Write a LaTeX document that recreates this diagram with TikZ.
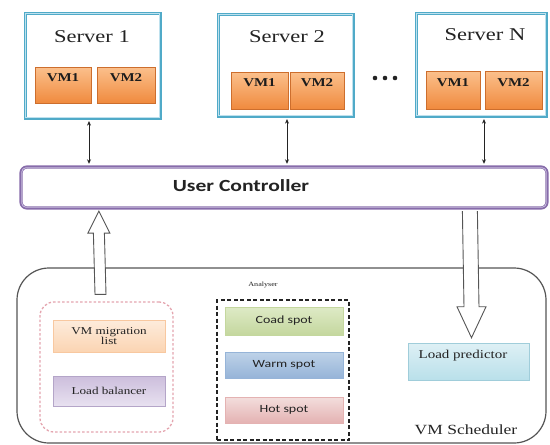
\documentclass[tikz,border=0pt]{standalone}
\usepackage{fontspec}
\setmainfont[FakeStretch=1.25]{Liberation Serif}
\newfontfamily\uisans[FakeStretch=1.27]{Carlito}
\usetikzlibrary{arrows.meta,calc,shadows}

\definecolor{servline}{RGB}{80,170,200}
\definecolor{servinner}{RGB}{190,225,238}
\definecolor{vmtop}{RGB}{251,192,140}
\definecolor{vmbot}{RGB}{240,138,62}
\definecolor{vmedge}{RGB}{205,110,45}
\definecolor{ctrlline}{RGB}{135,108,170}
\definecolor{ctrlinner}{RGB}{200,188,222}
\definecolor{schedline}{RGB}{85,85,85}
\definecolor{pinkdash}{RGB}{228,165,175}
\definecolor{migtop}{RGB}{253,236,220}
\definecolor{migbot}{RGB}{251,212,178}
\definecolor{migedge}{RGB}{248,200,160}
\definecolor{lbtop}{RGB}{204,190,220}
\definecolor{lbbot}{RGB}{232,225,240}
\definecolor{lbedge}{RGB}{180,165,200}
\definecolor{coldtop}{RGB}{222,234,198}
\definecolor{coldbot}{RGB}{196,215,158}
\definecolor{warmtop}{RGB}{190,210,232}
\definecolor{warmbot}{RGB}{150,180,216}
\definecolor{hottop}{RGB}{243,222,221}
\definecolor{hotbot}{RGB}{228,178,178}
\definecolor{predtop}{RGB}{222,240,245}
\definecolor{predbot}{RGB}{185,224,234}
\definecolor{prededge}{RGB}{160,205,218}
\definecolor{inkgray}{RGB}{35,35,35}

\tikzset{
  server/.style={draw=servline, line width=3pt, fill=white, inner sep=0pt},
  srvtitle/.style={font=\fontsize{18}{20}\selectfont, text=inkgray, inner sep=0pt},
  vmbox/.style={top color=vmtop, bottom color=vmbot, draw=vmedge, line width=0.5pt,
    inner sep=0pt, text height=8.5pt, text depth=16.5pt,
    font=\fontsize{12}{13}\selectfont\bfseries, text=inkgray!80!black,
    drop shadow={shadow xshift=1pt, shadow yshift=-1pt, opacity=0.35}},
  ctrlbox/.style={draw=ctrlline, line width=3.2pt, rounded corners=6pt, fill=white, inner sep=0pt},
  dblarrow/.style={{Stealth[length=4.5pt,width=4pt]}-{Stealth[length=4.5pt,width=4pt]},
    line width=0.7pt, draw=inkgray},
  schedbox/.style={draw=schedline, line width=1.2pt, rounded corners=32pt, inner sep=0pt},
  hollow/.style={draw=schedline, line width=0.9pt, fill=white, line join=miter},
  pinkbox/.style={draw=pinkdash, line width=1.3pt, dash pattern=on 2.5pt off 2pt,
    rounded corners=14pt, inner sep=0pt},
  blackdash/.style={draw=inkgray, line width=1.1pt, dash pattern=on 4pt off 2.5pt, inner sep=0pt},
  panel/.style={line width=0.5pt, inner sep=0pt, text=inkgray,
    drop shadow={shadow xshift=0.8pt, shadow yshift=-0.8pt, opacity=0.25}},
  serifsmall/.style={font=\fontsize{10.5}{11.5}\selectfont},
  spotfont/.style={font=\uisans\fontsize{11}{12}\selectfont},
  plain/.style={inner sep=0pt, text=inkgray}
}

\begin{document}
\begin{tikzpicture}[x=1pt,y=-1pt]
\useasboundingbox (0,0) rectangle (550,445);

% ---- servers ----
\node[server, minimum width=135pt, minimum height=105pt] (s1) at (92.5,65.5) {};
\node[server, minimum width=135pt, minimum height=102pt] (s2) at (285.5,65) {};
\node[server, minimum width=130pt, minimum height=103pt] (sN) at (481,64.5) {};
\foreach \s in {s1,s2,sN}
  \draw[servinner, line width=0.8pt]
    ($(\s.north west)+(2.2,2.2)$) rectangle ($(\s.south east)+(-2.2,-2.2)$);

\node[srvtitle] (s1t) at (92,37) {Server 1};
\node[srvtitle] (s2t) at (287,37) {Server 2};
\node[srvtitle] (sNt) at (485,35) {Server N};

\node[vmbox, minimum width=56pt, minimum height=36pt] (s1v1) at (63,85) {VM1};
\node[vmbox, minimum width=58pt, minimum height=36pt] (s1v2) at (126,85) {VM2};
\node[vmbox, minimum width=57pt, minimum height=37pt] (s2v1) at (259.5,90.5) {VM1};
\node[vmbox, minimum width=54pt, minimum height=37pt] (s2v2) at (317,90.5) {VM2};
\node[vmbox, minimum width=54pt, minimum height=38pt] (sNv1) at (453,90) {VM1};
\node[vmbox, minimum width=57pt, minimum height=38pt] (sNv2) at (513.5,90) {VM2};

% ellipsis between the servers
\foreach \dx/\nm in {375/d1,385/d2,395/d3}
  \fill[inkgray] (\dx,78) circle (2.3pt) coordinate (\nm);

% ---- user controller ----
\node[ctrlbox, minimum width=526pt, minimum height=41pt] (ctrl) at (284,187.5) {};
\draw[ctrlinner, line width=0.8pt, rounded corners=4pt]
  ($(ctrl.north west)+(2.4,2.4)$) rectangle ($(ctrl.south east)+(-2.4,-2.4)$);
\node[plain, font=\uisans\bfseries\fontsize{17}{19}\selectfont] (ctrlt) at (241,186) {User Controller};

% links between each server and the controller
\coordinate (a1) at ($(s1.south)+(-3.5,0)$);
\coordinate (a2) at ($(s2.south)+(1.5,0)$);
\coordinate (aN) at ($(sN.south)+(3,0)$);
\foreach \a in {a1,a2,aN}
  \draw[dblarrow, shorten <=1.6pt, shorten >=1.6pt] (\a) -- (\a |- ctrl.north);

% ---- VM scheduler ----
\node[schedbox, minimum width=529pt, minimum height=175pt] (sched) at (281.5,355.5) {};
\node[plain, font=\fontsize{14}{15}\selectfont] (schedt) at (466,430) {VM Scheduler};

% migration group
\node[pinkbox, minimum width=133pt, minimum height=130pt] (pink) at (106.5,367) {};
\node[panel, serifsmall, top color=migtop, bottom color=migbot, draw=migedge,
  minimum width=112pt, minimum height=32pt, align=center] (mig) at (109,336)
  {VM migration\\[-1.5pt]list};
\node[panel, serifsmall, top color=lbtop, bottom color=lbbot, draw=lbedge,
  minimum width=112pt, minimum height=30pt] (lb) at (109,391) {Load balancer};

% analyser group
\node[plain, font=\fontsize{6.5}{7}\selectfont] (anat) at (263,285) {Analyser};
\node[blackdash, minimum width=132pt, minimum height=140pt] (ana) at (283,370) {};
\node[panel, spotfont, top color=coldtop, bottom color=coldbot, draw=coldbot,
  minimum width=118pt, minimum height=28pt] (cold) at (284,321) {Coad spot};
\node[panel, spotfont, top color=warmtop, bottom color=warmbot, draw=warmbot,
  minimum width=118pt, minimum height=26pt] (warm) at (284,365) {Warm spot};
\node[panel, spotfont, top color=hottop, bottom color=hotbot, draw=hotbot,
  minimum width=118pt, minimum height=26pt] (hot) at (284,410) {Hot spot};

% load predictor
\node[panel, top color=predtop, bottom color=predbot, draw=prededge,
  minimum width=121pt, minimum height=37pt] (pred) at (468.5,361.5) {};
\node[plain, font=\fontsize{12}{13}\selectfont] (predt) at (463,356) {Load predictor};

% ---- hollow block arrows ----
\coordinate (upTip) at ($(ctrl.south west)+(79.5,1.5)$);
\coordinate (upTail) at ($(pink.north)+(-6,-7)$);
\draw[hollow]
  (upTip) -- ($(upTip)+(11,22)$) -- ($(upTip)+(5.5,22)$) -- ($(upTail)+(5.5,0)$)
  -- ($(upTail)+(-5.5,0)$) -- ($(upTip)+(-5.5,22)$) -- ($(upTip)+(-11,22)$) -- cycle;

\coordinate (dnTail) at ($(ctrl.south west)+(450.5,1.5)$);
\coordinate (dnTip) at ($(pred.north)+(3,-5)$);
\draw[hollow]
  ($(dnTail)+(-7.5,0)$) -- ($(dnTip)+(-7.5,-31)$) -- ($(dnTip)+(-14.5,-31)$) -- (dnTip)
  -- ($(dnTip)+(14.5,-31)$) -- ($(dnTip)+(7.5,-31)$) -- ($(dnTail)+(7.5,0)$);
\end{tikzpicture}
\end{document}
